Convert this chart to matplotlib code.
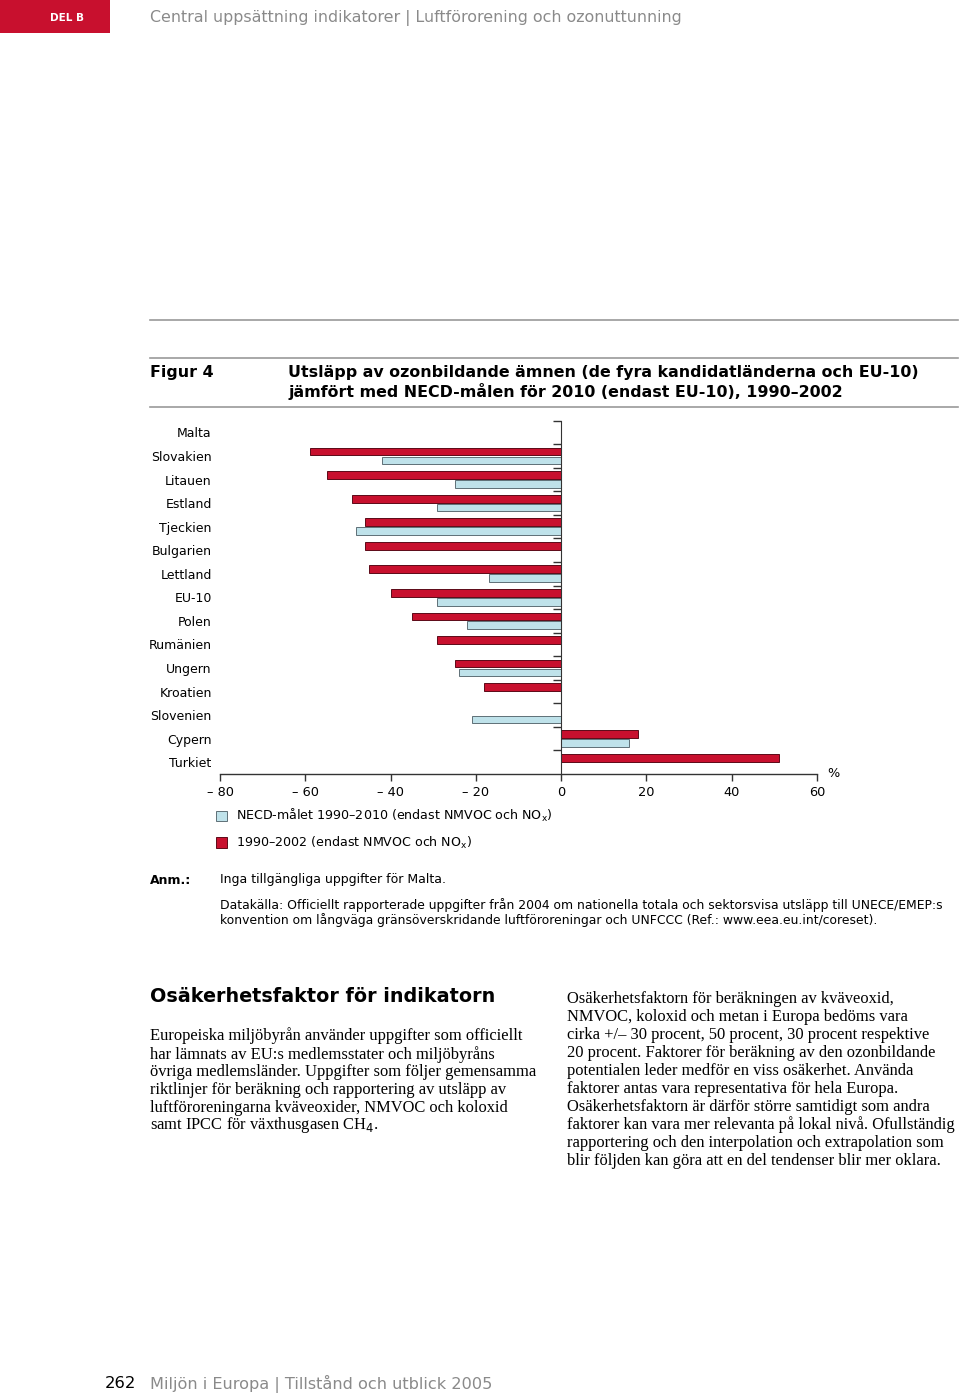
import matplotlib
matplotlib.use('Agg')
import matplotlib.pyplot as plt
from matplotlib.patches import Rectangle
from matplotlib.lines import Line2D
import numpy as np

# ---------------- data ----------------
categories = ['Malta', 'Slovakien', 'Litauen', 'Estland', 'Tjeckien', 'Bulgarien',
              'Lettland', 'EU-10', 'Polen', 'Rumänien', 'Ungern', 'Kroatien',
              'Slovenien', 'Cypern', 'Turkiet']
change_1990_2002 = [np.nan, -59, -55, -49, -46, -46, -45, -40, -35, -29, -25, -18,
                    np.nan, 18, 51]
necd_target_1990_2010 = [np.nan, -42, -25, -29, -48, np.nan, -17, -29, -22, np.nan,
                         -24, np.nan, -21, 16, np.nan]
xticks = [-80, -60, -40, -20, 0, 20, 40, 60]
xticklabels = ['– 80', '– 60', '– 40', '– 20', '0', '20', '40', '60']
legend_labels = ['NECD-målet 1990–2010 (endast NMVOC och NO$_{\\mathrm{x}}$)',
                 '1990–2002 (endast NMVOC och NO$_{\\mathrm{x}}$)']

RED = '#c8102e'
RED_EDGE = '#5c0a18'
BLUE = '#bfe2ea'
BLUE_EDGE = '#5f7077'
GRAY = '#8a8a8a'

W, H = 960, 1396
fig = plt.figure(figsize=(W / 100, H / 100), dpi=100)

def fx(px):
    return px / W

def fy(py):
    return 1 - py / H

SANS = 'DejaVu Sans'
SERIF = 'Liberation Serif'

# ---------------- page header ----------------
fig.patches.append(Rectangle((0, fy(33)), fx(110), 33 / H, transform=fig.transFigure,
                             facecolor='#c8102e', edgecolor='none'))
fig.text(fx(67), fy(18), 'DEL B', color='white', fontsize=7.5, fontweight='bold',
         family=SANS, ha='center', va='center')
fig.text(fx(150), fy(18), 'Central uppsättning indikatorer | Luftförorening och ozonuttunning',
         color=GRAY, fontsize=11.4, family=SANS, ha='left', va='center')

for yy in (320, 358, 407):
    fig.add_artist(Line2D([fx(150), fx(958)], [fy(yy), fy(yy)], transform=fig.transFigure,
                          color='#9a9a9a', lw=1.2))

fig.text(fx(150), fy(372), 'Figur 4', fontsize=11.4, fontweight='bold', family=SANS,
         ha='left', va='center')
fig.text(fx(288), fy(372), 'Utsläpp av ozonbildande ämnen (de fyra kandidatländerna och EU-10)',
         fontsize=11.4, fontweight='bold', family=SANS, ha='left', va='center')
fig.text(fx(288), fy(392), 'jämfört med NECD-målen för 2010 (endast EU-10), 1990–2002',
         fontsize=11.4, fontweight='bold', family=SANS, ha='left', va='center')

# ---------------- chart ----------------
ax = fig.add_axes([fx(220), fy(774), 597 / W, 353.3 / H])
y = np.arange(len(categories))
red_vals = np.array(change_1990_2002, dtype=float)
blue_vals = np.array(necd_target_1990_2010, dtype=float)
mr = ~np.isnan(red_vals)
mb = ~np.isnan(blue_vals)
ax.barh(y[mr] - 0.19, red_vals[mr], height=0.33, color=RED, edgecolor=RED_EDGE,
        linewidth=0.7, zorder=2)
ax.barh(y[mb] + 0.19, blue_vals[mb], height=0.33, color=BLUE, edgecolor=BLUE_EDGE,
        linewidth=0.7, zorder=2)
ax.set_xlim(-80, 60)
ax.set_ylim(len(categories) - 0.5, -0.5)
for s in ('top', 'right', 'left'):
    ax.spines[s].set_visible(False)
ax.spines['bottom'].set_color('#333333')
ax.spines['bottom'].set_linewidth(1.0)
ax.set_yticks(y, categories)
ax.tick_params(axis='y', length=0, pad=6, labelsize=9.0)
ax.set_xticks(xticks, xticklabels)
ax.tick_params(axis='x', direction='out', length=5, pad=4, labelsize=9.3,
               color='#333333', width=1.0)
for lab in ax.get_xticklabels() + ax.get_yticklabels():
    lab.set_family(SANS)
ax.text(1.018, -0.008, '%', transform=ax.transAxes, fontsize=9.3, family=SANS,
        ha='left', va='baseline')

# zero axis with category separator ticks
ax2 = ax.twinx()
ax2.set_ylim(ax.get_ylim())
ax2.yaxis.set_ticks_position('left')
ax2.spines['left'].set_position(('data', 0))
ax2.spines['left'].set_color('#333333')
for s in ('top', 'right', 'bottom'):
    ax2.spines[s].set_visible(False)
ax2.set_yticks(np.arange(-0.5, len(categories) - 1, 1.0))
ax2.set_yticklabels([])
ax2.tick_params(axis='y', direction='out', length=6, color='#333333', width=1.0)

# legend
h_blue = Rectangle((0, 0), 1, 1, facecolor=BLUE, edgecolor=BLUE_EDGE, linewidth=0.7)
h_red = Rectangle((0, 0), 1, 1, facecolor=RED, edgecolor=RED_EDGE, linewidth=0.7)
leg = fig.legend(handles=[h_blue, h_red], labels=legend_labels, loc='upper left',
                 bbox_to_anchor=(fx(216), fy(807)), bbox_transform=fig.transFigure,
                 frameon=False, prop={'family': SANS, 'size': 9.1}, handlelength=0.85,
                 handleheight=0.85, handletextpad=0.7, labelspacing=0.85,
                 borderaxespad=0, borderpad=0)

# ---------------- notes ----------------
fig.text(fx(150), fy(880), 'Anm.:', fontsize=9, fontweight='bold', family=SANS,
         ha='left', va='center')
fig.text(fx(220), fy(880), 'Inga tillgängliga uppgifter för Malta.', fontsize=9,
         family=SANS, ha='left', va='center')
fig.text(fx(220), fy(898),
         'Datakälla: Officiellt rapporterade uppgifter från 2004 om nationella totala och sektorsvisa utsläpp till UNECE/EMEP:s\n'
         'konvention om långväga gränsöverskridande luftföroreningar och UNFCCC (Ref.: www.eea.eu.int/coreset).',
         fontsize=8.9, family=SANS, ha='left', va='top', linespacing=1.12)

# ---------------- body text ----------------
fig.text(fx(150), fy(997), 'Osäkerhetsfaktor för indikatorn', fontsize=13.8,
         fontweight='bold', family=SANS, ha='left', va='center')
left_col = ('Europeiska miljöbyrån använder uppgifter som officiellt\n'
            'har lämnats av EU:s medlemsstater och miljöbyråns\n'
            'övriga medlemsländer. Uppgifter som följer gemensamma\n'
            'riktlinjer för beräkning och rapportering av utsläpp av\n'
            'luftföroreningarna kväveoxider, NMVOC och koloxid')
fig.text(fx(150), fy(1027), left_col, fontsize=11.9, family=SERIF, ha='left', va='top',
         linespacing=1.15)
fig.text(fx(150), fy(1129), 'samt IPCC för växthusgasen CH$_{4}$.', fontsize=11.9,
         family=SERIF, ha='left', va='baseline')
right_col = ('Osäkerhetsfaktorn för beräkningen av kväveoxid,\n'
             'NMVOC, koloxid och metan i Europa bedöms vara\n'
             'cirka +/– 30 procent, 50 procent, 30 procent respektive\n'
             '20 procent. Faktorer för beräkning av den ozonbildande\n'
             'potentialen leder medför en viss osäkerhet. Använda\n'
             'faktorer antas vara representativa för hela Europa.\n'
             'Osäkerhetsfaktorn är därför större samtidigt som andra\n'
             'faktorer kan vara mer relevanta på lokal nivå. Ofullständig\n'
             'rapportering och den interpolation och extrapolation som\n'
             'blir följden kan göra att en del tendenser blir mer oklara.')
fig.text(fx(567), fy(991), right_col, fontsize=11.9, family=SERIF, ha='left', va='top',
         linespacing=1.16)

# ---------------- footer ----------------
fig.text(fx(105), fy(1384), '262', fontsize=11.8, family=SANS, color='black',
         ha='left', va='center')
fig.text(fx(150), fy(1384), 'Miljön i Europa | Tillstånd och utblick 2005', fontsize=11.6,
         family=SANS, color=GRAY, ha='left', va='center')

fig.savefig('out.png', dpi=100)
